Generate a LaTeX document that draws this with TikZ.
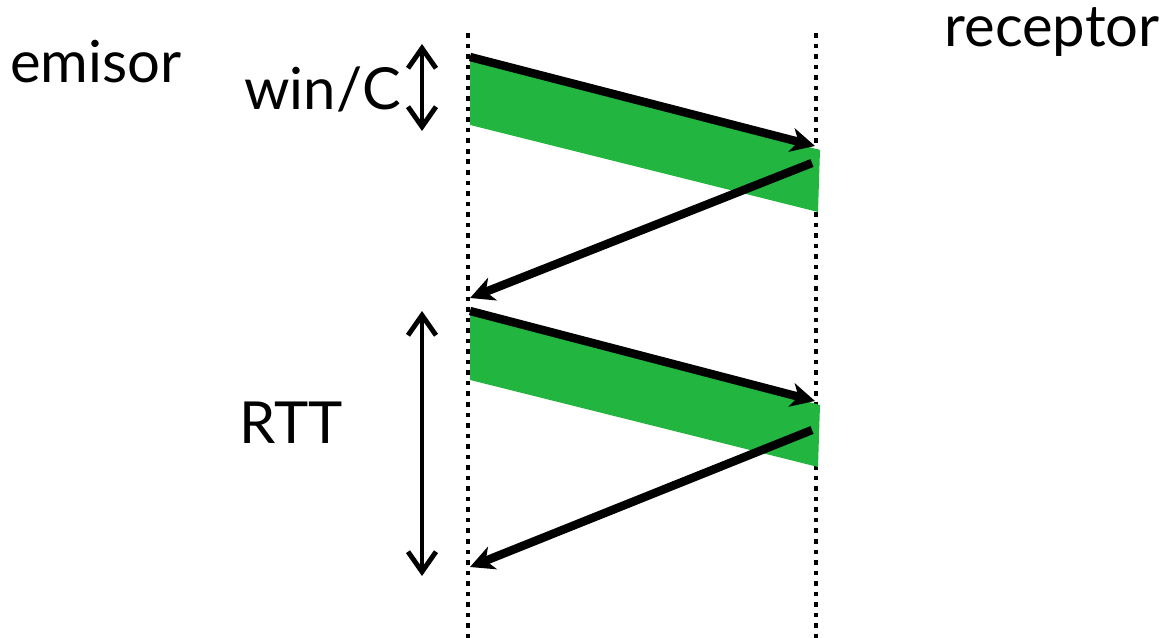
\documentclass[tikz,border=0pt]{standalone}
\usepackage{fontspec}
\setmainfont{Lato}
\usetikzlibrary{arrows.meta}
\definecolor{segverde}{RGB}{34, 181, 64}

\begin{document}
\begin{tikzpicture}[x=0.02cm, y=-0.02cm,
    timeline/.style={line width=2.8pt, dash pattern=on 2.6pt off 3.4pt},
    segment/.style={fill=segverde, draw=none},
    msg/.style={line width=4.8pt, -{Stealth[length=0.48cm, width=0.48cm, inset=0.14cm]}},
    span/.style={line width=2.8pt, {Straight Barb[length=0.4cm, width=0.56cm]}-{Straight Barb[length=0.4cm, width=0.56cm]}},
    label/.style={font=\fontsize{33}{40}\selectfont, inner sep=0pt}
]
\useasboundingbox (0,0) rectangle (1166,638);

% === Time lines ===
\coordinate (emtop) at (468,33);
\coordinate (embot) at (468,638);
\coordinate (retop) at (816,33);
\coordinate (rebot) at (816,638);
\draw[timeline] (emtop) -- (embot);
\draw[timeline] (retop) -- (rebot);

% === Labels ===
\node[label, anchor=base west] (emisor) at (10,83) {emisor};
\node[label, anchor=base east] (receptor) at (1160,47) {receptor};
\node[label, anchor=base east] (winc) at (401,110) {win/C};
\node[label, anchor=base west] (rtt) at (239,443) {RTT};

% === Window segments ===
\foreach \i/\y in {1/55, 2/310} {
    \fill[segment] (470,\y) -- (820,\y+95) -- (818,\y+157) -- (470,\y+70) -- cycle;
}

% === Messages ===
\coordinate (s1) at (470,57);
\coordinate (r1) at (815,146);
\coordinate (a1) at (812,163);
\coordinate (e1) at (470,298);
\coordinate (s2) at (470,311);
\coordinate (r2) at (815,401);
\coordinate (a2) at (812,430);
\coordinate (e2) at (470,567);
\draw[msg] (s1) -- (r1);
\draw[msg] (a1) -- (e1);
\draw[msg] (s2) -- (r2);
\draw[msg] (a2) -- (e2);

% === Spans ===
\coordinate (wtop) at (422,44);
\coordinate (wbot) at (422,131);
\coordinate (ttop) at (422,311);
\coordinate (tbot) at (422,576);
\draw[span] (wtop) -- (wbot);
\draw[span] (ttop) -- (tbot);

\end{tikzpicture}
\end{document}
